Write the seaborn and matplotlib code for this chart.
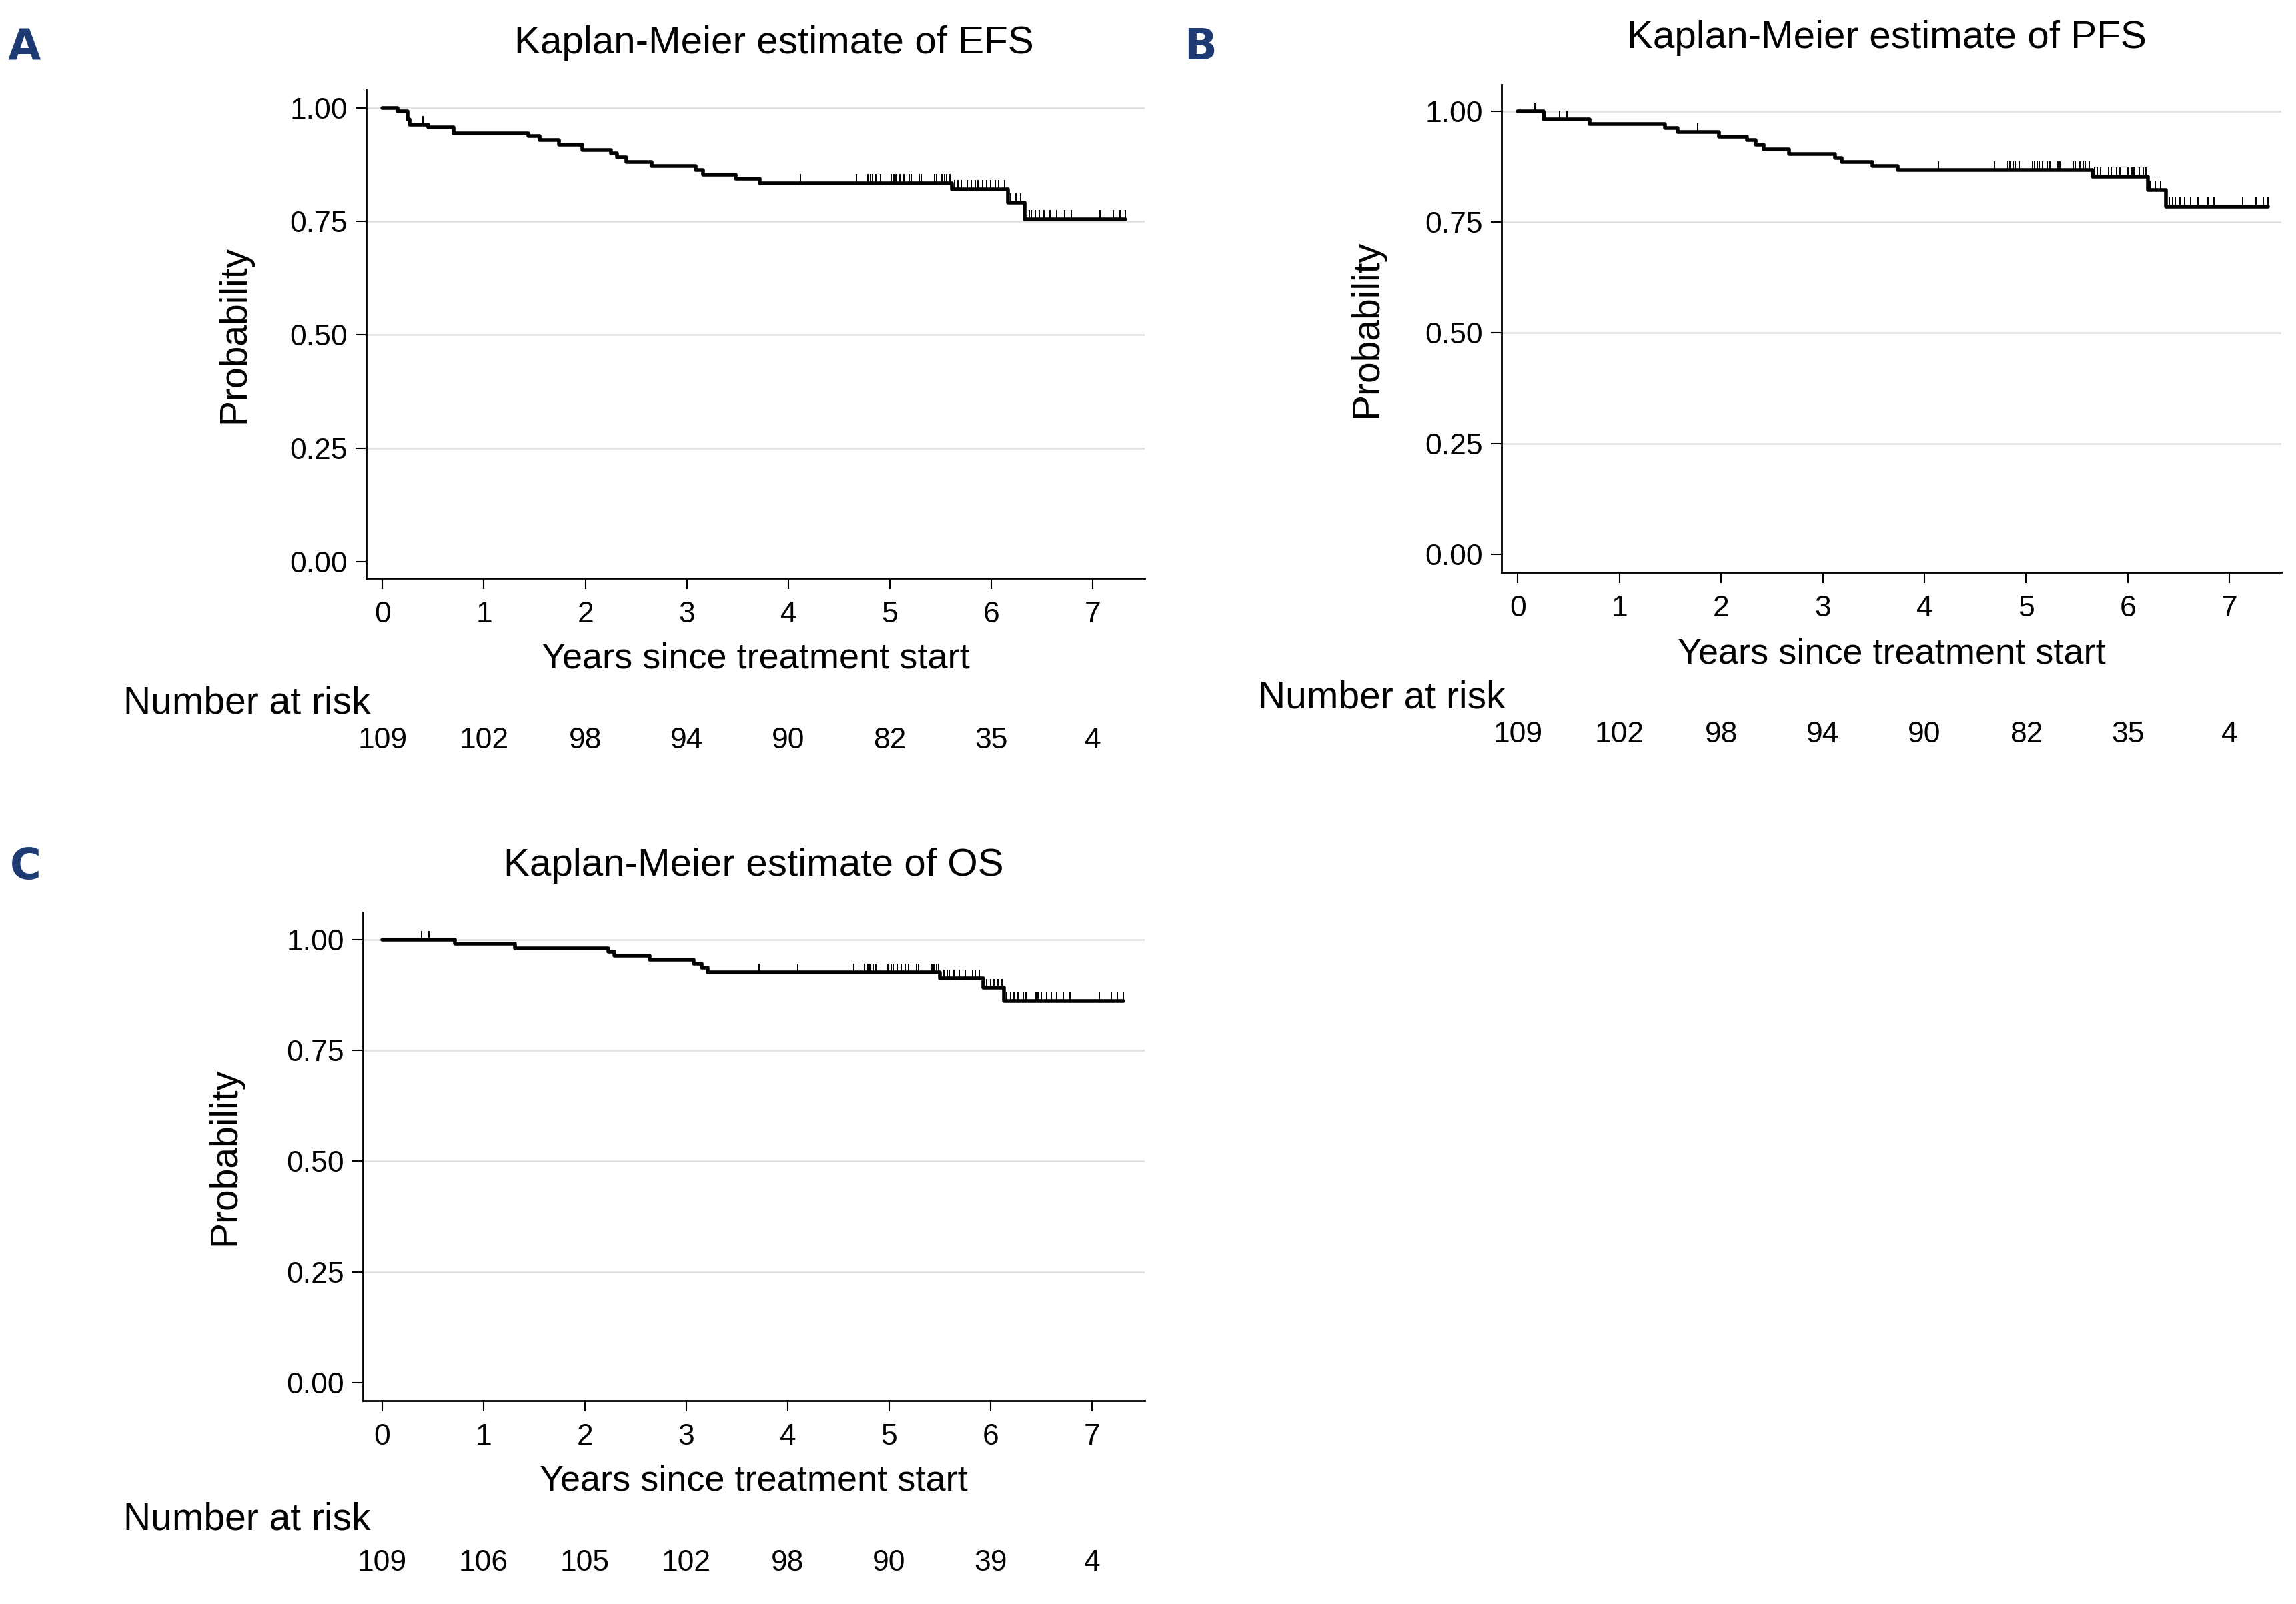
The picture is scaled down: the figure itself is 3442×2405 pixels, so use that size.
import numpy as np
import pandas as pd
import matplotlib
matplotlib.use("Agg")
import matplotlib.pyplot as plt
import seaborn as sns
from matplotlib.transforms import blended_transform_factory

# ---- data ----
years = [0, 1, 2, 3, 4, 5, 6, 7]

efs_event_t = [0.146, 0.25, 0.27, 0.45, 0.70, 1.44, 1.55, 1.74, 1.97, 2.25, 2.31, 2.40,
               2.65, 3.09, 3.16, 3.48, 3.72, 5.61, 6.16, 6.33]
efs_event_s = [0.9926, 0.975, 0.963, 0.957, 0.945, 0.939, 0.930, 0.919, 0.908, 0.900, 0.892,
               0.881, 0.873, 0.863, 0.853, 0.844, 0.834, 0.821, 0.792, 0.755]
efs_cens_t = [0.40, 4.12, 4.67, 4.78, 4.81, 4.83, 4.86, 4.91, 5.01, 5.04, 5.06, 5.10, 5.14,
              5.19, 5.21, 5.29, 5.31, 5.44, 5.46, 5.51, 5.54, 5.56, 5.59, 5.64, 5.67, 5.70,
              5.76, 5.80, 5.84, 5.87, 5.91, 5.95, 5.99, 6.04, 6.07, 6.13, 6.19, 6.24, 6.29,
              6.37, 6.39, 6.43, 6.47, 6.52, 6.58, 6.64, 6.72, 6.79, 7.07, 7.20, 7.27, 7.32]
efs_end = 7.32
efs_risk = [109, 102, 98, 94, 90, 82, 35, 4]

pfs_event_t = [0.256, 0.709, 1.447, 1.573, 1.98, 2.256, 2.342, 2.417, 2.668, 3.12, 3.186,
               3.487, 3.739, 5.65, 6.196, 6.372]
pfs_event_s = [0.981, 0.9715, 0.9625, 0.9525, 0.9425, 0.935, 0.925, 0.9135, 0.9035, 0.895,
               0.885, 0.876, 0.8665, 0.8525, 0.8225, 0.785]
pfs_cens_t = [0.17, 0.27, 0.41, 0.48, 1.77, 4.14, 4.69, 4.82, 4.84, 4.87, 4.89, 4.93, 5.06,
              5.08, 5.11, 5.13, 5.16, 5.21, 5.23, 5.31, 5.33, 5.46, 5.48, 5.53, 5.56, 5.58,
              5.62, 5.67, 5.70, 5.73, 5.81, 5.84, 5.89, 5.92, 6.00, 6.04, 6.06, 6.11, 6.15,
              6.18, 6.22, 6.27, 6.32, 6.41, 6.44, 6.47, 6.51, 6.56, 6.62, 6.69, 6.79, 6.85,
              7.13, 7.26, 7.33, 7.38]
pfs_end = 7.38
pfs_risk = [109, 102, 98, 94, 90, 82, 35, 4]

os_event_t = [0.72, 1.31, 2.23, 2.29, 2.64, 3.07, 3.15, 3.21, 5.50, 5.93, 6.13]
os_event_s = [0.991, 0.981, 0.9735, 0.9646, 0.9546, 0.946, 0.9376, 0.926, 0.9127, 0.891, 0.861]
os_cens_t = [0.39, 0.46, 3.72, 4.10, 4.65, 4.76, 4.79, 4.81, 4.84, 4.87, 4.99, 5.02, 5.04,
             5.08, 5.12, 5.16, 5.19, 5.27, 5.29, 5.42, 5.44, 5.47, 5.49, 5.54, 5.57, 5.59,
             5.64, 5.69, 5.75, 5.82, 5.85, 5.89, 5.96, 6.00, 6.03, 6.07, 6.11, 6.16, 6.20,
             6.23, 6.27, 6.32, 6.35, 6.45, 6.47, 6.50, 6.55, 6.60, 6.65, 6.72, 6.78, 7.07,
             7.19, 7.25, 7.31]
os_end = 7.31
os_risk = [109, 106, 105, 102, 98, 90, 39, 4]

# ---- style ----
W, H = 3442, 2405
sns.set_theme(style="white")
plt.rcParams['font.family'] = ['Liberation Sans', 'DejaVu Sans']
plt.rcParams['axes.linewidth'] = 2.0

fig = plt.figure(figsize=(W / 100, H / 100), dpi=100)


def fx(px):
    return px / W


def fy(py):
    return 1 - py / H


def km_panel(rect, ev_t, ev_s, cens_t, end_t, risk, title, title_xy, letter, letter_xy,
             ylab_x, xlab_y, nar_xy, risk_base, xlim, ylim):
    ax = fig.add_axes(rect)
    t = np.r_[0.0, ev_t, end_t]
    s = np.r_[1.0, ev_s, ev_s[-1]]
    df = pd.DataFrame({"time": t, "surv": s})
    sns.lineplot(data=df, x="time", y="surv", drawstyle="steps-post", estimator=None,
                 color="black", linewidth=4.0, ax=ax)

    # censoring marks sit on top of the curve
    idx = np.searchsorted(ev_t, cens_t, side="right")
    lev = np.r_[1.0, ev_s][idx]
    ax.vlines(cens_t, lev, lev + 0.02, color="black", linewidth=1.4)

    ax.set_xlim(*xlim)
    ax.set_ylim(*ylim)
    ax.set_xticks(years)
    ax.set_yticks([0, 0.25, 0.5, 0.75, 1.0])
    ax.set_yticklabels(["0.00", "0.25", "0.50", "0.75", "1.00"])
    ax.yaxis.grid(True, color="#e2e2e2", linewidth=2.0)
    ax.xaxis.grid(False)
    ax.get_ygridlines()[0].set_visible(False)
    ax.set_axisbelow(True)
    for side in ["top", "right"]:
        ax.spines[side].set_visible(False)
    for side in ["left", "bottom"]:
        ax.spines[side].set_color("black")
    ax.tick_params(axis="both", which="major", direction="out", length=11.5, width=1.5,
                   color="black", labelsize=32, labelcolor="black",
                   left=True, bottom=True)
    ax.tick_params(axis="x", pad=13)
    ax.tick_params(axis="y", pad=8.5)

    ax.set_xlabel("Years since treatment start", fontsize=39, color="black")
    ax.set_ylabel("Probability", fontsize=41, color="black")
    ax.xaxis.set_label_coords(0.5, xlab_y)
    ax.yaxis.set_label_coords(ylab_x, 0.5)

    fig.text(fx(title_xy[0]), fy(title_xy[1]), title, fontsize=42, ha="center",
             va="baseline", color="black")
    fig.text(fx(letter_xy[0]), fy(letter_xy[1]), letter, fontsize=46, fontweight="bold",
             family="DejaVu Sans", ha="left", va="baseline", color="#1d3b72")
    fig.text(fx(nar_xy[0]), fy(nar_xy[1]), "Number at risk", fontsize=41, ha="left",
             va="baseline", color="black")
    tr = blended_transform_factory(ax.transData, fig.transFigure)
    for yr, n in zip(years, risk):
        ax.text(yr, fy(risk_base), str(n), transform=tr, fontsize=32, ha="center",
                va="baseline", color="black", clip_on=False)
    return ax


km_panel([fx(549), fy(867), fx(1716 - 549), (867 - 135) / H],
         efs_event_t, efs_event_s, efs_cens_t, efs_end, efs_risk,
         "Kaplan-Meier estimate of EFS", (1160, 80), "A", (12, 90),
         -0.146, -0.130, (185, 1070), 1122, (-0.16, 7.51), (-0.037, 1.040))

km_panel([fx(2251), fy(858), fx(3420 - 2251), (858 - 127) / H],
         pfs_event_t, pfs_event_s, pfs_cens_t, pfs_end, pfs_risk,
         "Kaplan-Meier estimate of PFS", (2828, 72), "B", (1775, 89),
         -0.149, -0.133, (1886, 1062), 1113, (-0.16, 7.51), (-0.041, 1.060))

km_panel([fx(544), fy(2100), fx(1716 - 544), (2100 - 1368) / H],
         os_event_t, os_event_s, os_cens_t, os_end, os_risk,
         "Kaplan-Meier estimate of OS", (1130, 1313), "C", (15, 1318),
         -0.153, -0.131, (185, 2293), 2355, (-0.19, 7.52), (-0.041, 1.062))

fig.savefig("out.png", dpi=100, facecolor="white")
